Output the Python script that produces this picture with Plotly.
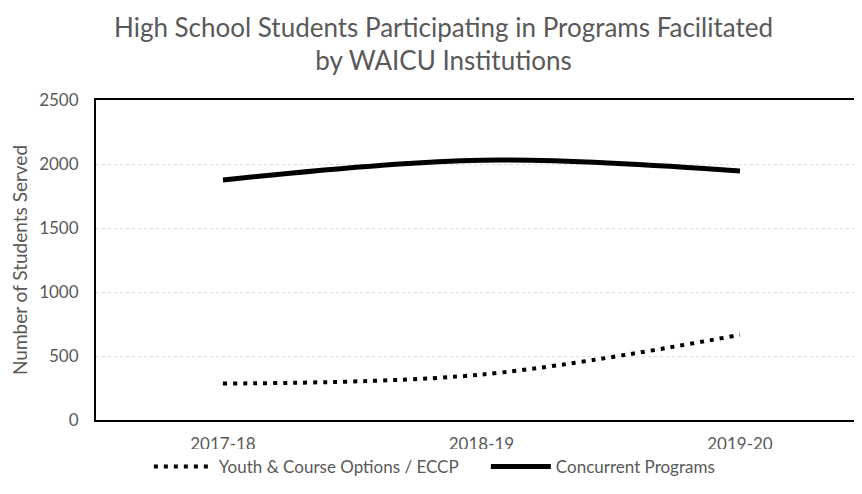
import plotly.graph_objects as go

years = ["2017-18", "2018-19", "2019-20"]
youth_eccp = [285, 355, 665]
concurrent = [1875, 2030, 1945]
y_ticks = [0, 500, 1000, 1500, 2000, 2500]

FONT = "Lato"
GRAY = "#595959"

fig = go.Figure()
fig.add_trace(go.Scatter(
    x=years, y=youth_eccp, mode="lines", name="Youth & Course Options / ECCP",
    line=dict(color="black", width=4, dash="4px,6px", shape="spline"),
))
fig.add_trace(go.Scatter(
    x=years, y=concurrent, mode="lines", name="Concurrent Programs",
    line=dict(color="black", width=5, shape="spline"),
))

fig.update_layout(
    width=854, height=478,
    margin=dict(l=88, r=0, t=92, b=66),
    paper_bgcolor="white", plot_bgcolor="white",
    font=dict(family=FONT, color=GRAY, size=17),
    title=dict(
        text="High School Students Participating in Programs Facilitated<br>by WAICU Institutions",
        x=0.510, xanchor="center", y=0.940, yanchor="top",
        font=dict(family=FONT, size=26, color=GRAY),
    ),
    showlegend=True,
    legend=dict(orientation="h", x=0.069, xanchor="left", y=-0.147, yanchor="middle",
                font=dict(family=FONT, size=17, color=GRAY),
                itemwidth=60, entrywidth=262, traceorder="normal"),
    xaxis=dict(
        type="category", range=[-0.491, 2.472],
        showline=True, linecolor="black", linewidth=2, mirror=True,
        showgrid=False, ticks="", tickfont=dict(size=17, color=GRAY),
        ticklabelstandoff=8,
    ),
    yaxis=dict(
        range=[0, 2500], tickvals=y_ticks,
        showline=True, linecolor="black", linewidth=2, mirror=False,
        showgrid=True, gridcolor="#d9d9d9", griddash="dot", gridwidth=1,
        zeroline=False, ticks="", ticklen=0,
        tickfont=dict(size=17, color=GRAY), ticklabelstandoff=12,
        title=dict(text="Number of Students Served", font=dict(size=19, color=GRAY), standoff=10),
    ),
)

fig.write_html("out.html")
